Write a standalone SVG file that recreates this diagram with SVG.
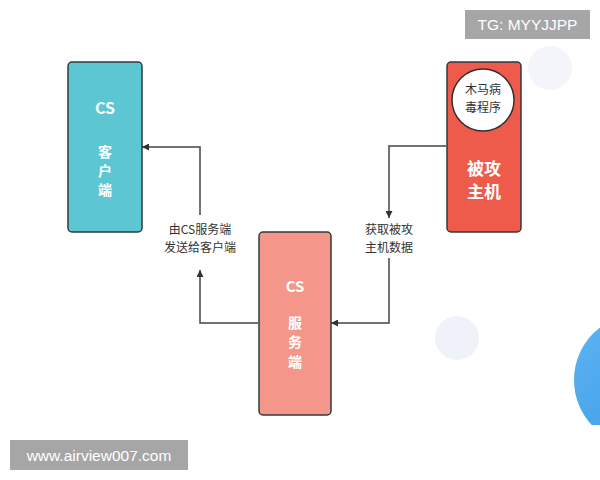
<svg xmlns="http://www.w3.org/2000/svg" width="600" height="480" viewBox="0 0 600 480">
<defs>
<style>
.box{stroke:#2f3b3f;stroke-width:1.5}
.w{fill:#ffffff;font-family:"Noto Sans CJK SC","Noto Sans",sans-serif;font-weight:bold;text-anchor:middle}
.lbl{fill:#333333;font-family:"Noto Sans CJK SC","Noto Sans",sans-serif;font-size:12px;text-anchor:middle}
.ln{fill:none;stroke:#444444;stroke-width:1.5}
.wm{fill:#ffffff;font-family:"Liberation Sans","DejaVu Sans",sans-serif;font-size:15.5px}
</style>
<marker id="ah" viewBox="0 0 10 10" refX="10" refY="5" markerWidth="7" markerHeight="7" orient="auto" markerUnits="userSpaceOnUse"><path d="M0,0 L10,5 L0,10 z" fill="#333333"/></marker>
<linearGradient id="bl" x1="0" y1="0" x2="1" y2="1"><stop offset="0" stop-color="#5ab4f2"/><stop offset="1" stop-color="#3d97e6"/></linearGradient>
<clipPath id="cp"><rect x="0" y="0" width="600" height="425"/></clipPath>
</defs>
<rect width="600" height="480" fill="#ffffff"/>
<g clip-path="url(#cp)">
<circle cx="457" cy="338" r="22" fill="#f0f2fa"/>
<circle cx="550" cy="68" r="22" fill="#f4f5fb"/>
<circle cx="640" cy="380" r="66" fill="url(#bl)"/>
</g>
<g id="connectors">
<polyline class="ln" points="258,323 200,323 200,270" marker-end="url(#ah)"/>
<polyline class="ln" points="200,215 200,147 142,147" marker-end="url(#ah)"/>
<polyline class="ln" points="446,146 389,146 389,218" marker-end="url(#ah)"/>
<polyline class="ln" points="389,258 389,323 331,323" marker-end="url(#ah)"/>
<text class="lbl" x="200" y="234">由CS服务端</text>
<text class="lbl" x="200" y="252">发送给客户端</text>
<text class="lbl" x="389" y="234">获取被攻</text>
<text class="lbl" x="389" y="252">主机数据</text>
</g>
<g id="client">
<rect class="box" x="68" y="62" width="74" height="170" rx="4" fill="#5cc6d2"/>
<text class="w" x="105" y="114" font-size="16">CS</text>
<text class="w" x="105" y="157" font-size="14">客</text>
<text class="w" x="105" y="176" font-size="14">户</text>
<text class="w" x="105" y="195" font-size="14">端</text>
</g>
<g id="host">
<rect class="box" x="447" y="62" width="74" height="170" rx="4" fill="#ef5b4b"/>
<circle cx="483" cy="100" r="31" fill="#ffffff" stroke="#2f2f2f" stroke-width="1.5"/>
<text x="483" y="94" fill="#333333" font-family="Noto Sans CJK SC,sans-serif" font-size="12" text-anchor="middle">木马病</text>
<text x="483" y="112" fill="#333333" font-family="Noto Sans CJK SC,sans-serif" font-size="12" text-anchor="middle">毒程序</text>
<text class="w" x="484" y="175" font-size="17">被攻</text>
<text class="w" x="484" y="198" font-size="17">主机</text>
</g>
<g id="server">
<rect class="box" x="259" y="232" width="72" height="183" rx="4" fill="#f4968a"/>
<text class="w" x="295" y="292" font-size="15">CS</text>
<text class="w" x="295" y="328" font-size="14">服</text>
<text class="w" x="295" y="347" font-size="14">务</text>
<text class="w" x="295" y="367" font-size="14">端</text>
</g>
<g id="watermarks">
<rect x="465" y="10" width="125" height="29" fill="#a6a6a6"/>
<text class="wm" x="527.5" y="30" text-anchor="middle">TG: MYYJJPP</text>
<rect x="10" y="440" width="178" height="30" fill="#a6a6a6"/>
<text class="wm" x="99" y="461" text-anchor="middle">www.airview007.com</text>
</g>
</svg>
